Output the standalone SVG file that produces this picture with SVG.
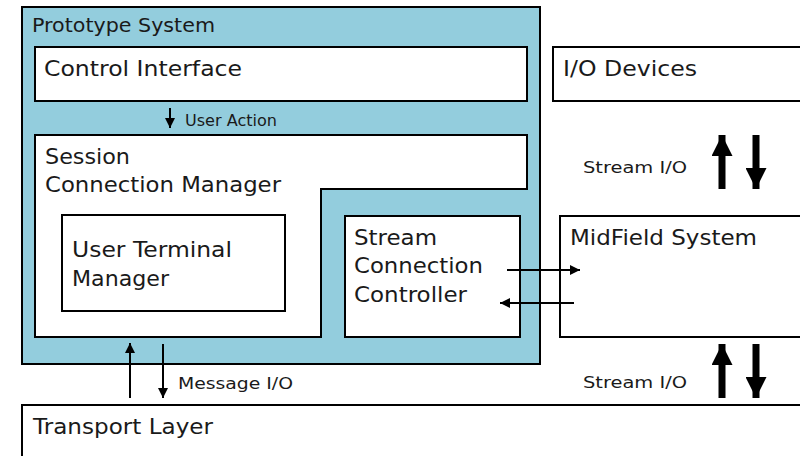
<svg xmlns="http://www.w3.org/2000/svg" width="800" height="456" viewBox="0 0 800 456">
<defs>
<style>
.box{fill:#fff;stroke:#000;stroke-width:2}
.t{font-family:"DejaVu Sans","Verdana",sans-serif;fill:#1a1a1a}
.big{font-size:22px}
.sm{font-size:16px}
.thin{stroke:#000;stroke-width:2;fill:none}
.fat{stroke:#000;stroke-width:7;fill:none}
</style>
<marker id="ah" viewBox="0 0 10 10" refX="10" refY="5" markerWidth="5" markerHeight="5" orient="auto" markerUnits="strokeWidth"><path d="M0,0 L10,5 L0,10 z" fill="#000"/></marker>
<marker id="ahb" viewBox="0 0 10 10" refX="10" refY="5" markerWidth="3" markerHeight="3" orient="auto" markerUnits="strokeWidth"><path d="M0,0 L10,5 L0,10 z" fill="#000"/></marker>
</defs>
<rect width="800" height="456" fill="#fff"/>
<g id="prototype-system">
<rect x="22" y="7" width="518" height="357" fill="#93cddd" stroke="#000" stroke-width="2"/>
<text class="t" x="32" y="32" font-size="19.5" textLength="183" lengthAdjust="spacingAndGlyphs">Prototype System</text>
</g>
<g id="control-interface">
<rect class="box" x="35" y="47" width="492" height="54"/>
<text class="t big" x="44" y="76" textLength="198" lengthAdjust="spacingAndGlyphs">Control Interface</text>
</g>
<g id="session-connection-manager">
<path class="box" d="M35,135 H527 V189 H321 V337 H35 Z"/>
<text class="t big" x="45" y="164" textLength="85" lengthAdjust="spacingAndGlyphs">Session</text>
<text class="t big" x="45" y="192" textLength="236" lengthAdjust="spacingAndGlyphs">Connection Manager</text>
</g>
<g id="user-terminal-manager">
<rect class="box" x="62" y="215" width="223" height="96"/>
<text class="t big" x="72" y="257" textLength="160" lengthAdjust="spacingAndGlyphs">User Terminal</text>
<text class="t big" x="72" y="286" textLength="97" lengthAdjust="spacingAndGlyphs">Manager</text>
</g>
<g id="stream-connection-controller">
<rect class="box" x="345" y="216" width="175" height="121"/>
<text class="t big" x="354" y="245" textLength="83" lengthAdjust="spacingAndGlyphs">Stream</text>
<text class="t big" x="354" y="273" textLength="129" lengthAdjust="spacingAndGlyphs">Connection</text>
<text class="t big" x="354" y="302" textLength="113" lengthAdjust="spacingAndGlyphs">Controller</text>
</g>
<g id="io-devices">
<rect class="box" x="553" y="47" width="260" height="54"/>
<text class="t big" x="563" y="76" textLength="134" lengthAdjust="spacingAndGlyphs">I/O Devices</text>
</g>
<g id="midfield-system">
<rect class="box" x="560" y="216" width="250" height="121"/>
<text class="t big" x="570" y="245" textLength="187" lengthAdjust="spacingAndGlyphs">MidField System</text>
</g>
<g id="transport-layer">
<rect class="box" x="22" y="405" width="790" height="60"/>
<text class="t big" x="33" y="434" textLength="180" lengthAdjust="spacingAndGlyphs">Transport Layer</text>
</g>
<g id="connectors">
<line class="thin" x1="170" y1="108" x2="170" y2="128" marker-end="url(#ah)"/>
<text class="t sm" x="185" y="126" textLength="92" lengthAdjust="spacingAndGlyphs">User Action</text>
<line class="thin" x1="507" y1="270" x2="580" y2="270" marker-end="url(#ah)"/>
<line class="thin" x1="574" y1="303" x2="500" y2="303" marker-end="url(#ah)"/>
<line class="thin" x1="130" y1="398" x2="130" y2="343" marker-end="url(#ah)"/>
<line class="thin" x1="163" y1="344" x2="163" y2="398" marker-end="url(#ah)"/>
<text class="t sm" x="178" y="389" textLength="115" lengthAdjust="spacingAndGlyphs">Message I/O</text>
<line class="fat" x1="722" y1="189" x2="722" y2="135" marker-end="url(#ahb)"/>
<line class="fat" x1="756" y1="135" x2="756" y2="189" marker-end="url(#ahb)"/>
<text class="t sm" x="583" y="173" textLength="104" lengthAdjust="spacingAndGlyphs">Stream I/O</text>
<line class="fat" x1="722" y1="398" x2="722" y2="344" marker-end="url(#ahb)"/>
<line class="fat" x1="756" y1="344" x2="756" y2="398" marker-end="url(#ahb)"/>
<text class="t sm" x="583" y="388" textLength="104" lengthAdjust="spacingAndGlyphs">Stream I/O</text>
</g>
</svg>
